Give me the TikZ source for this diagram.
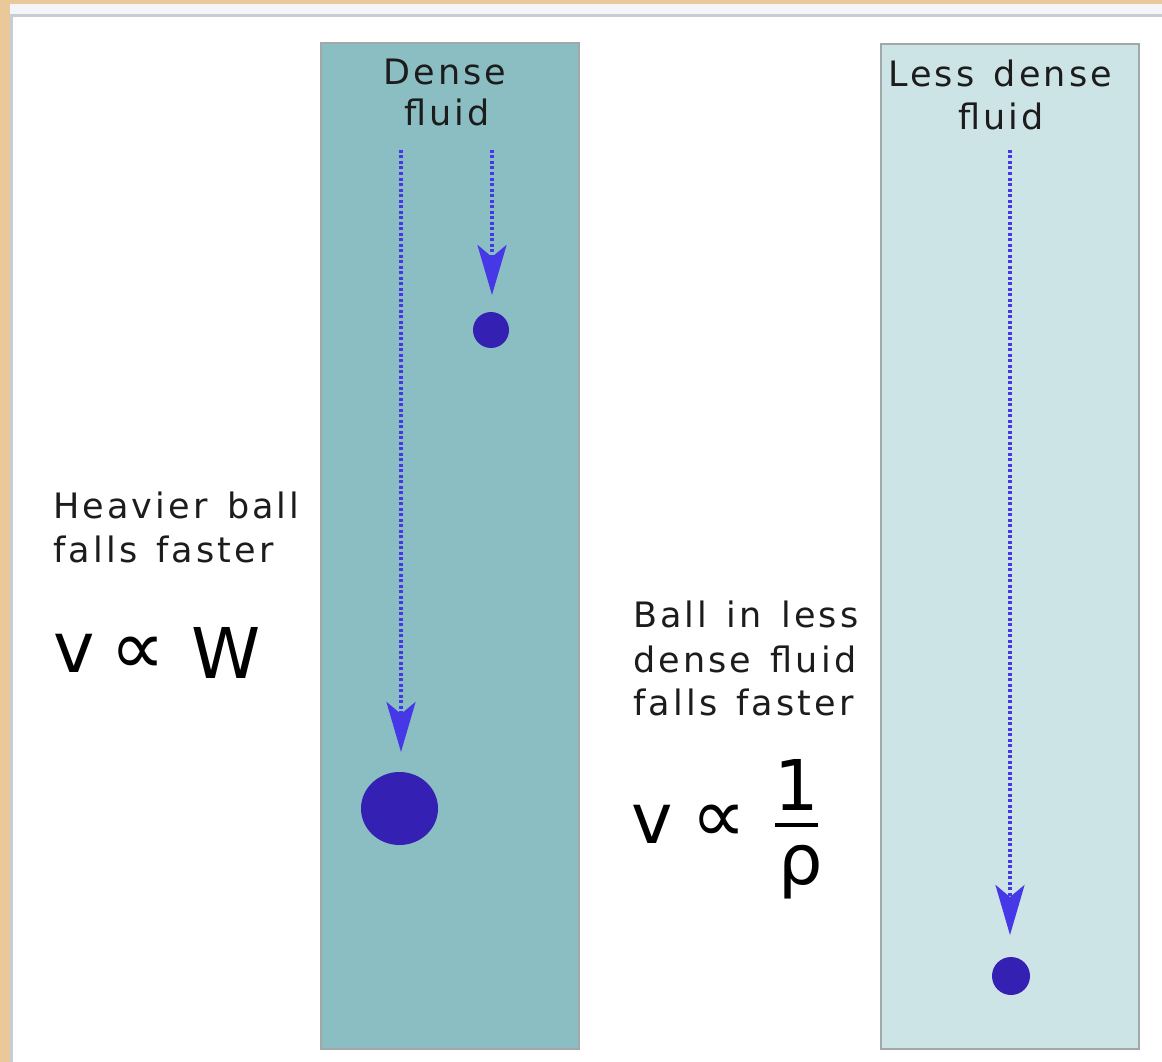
\documentclass[tikz,border=0pt]{standalone}
\usepackage{fontspec}
\setmainfont{DejaVu Sans}
\newfontfamily\labfont[LetterSpace=9,WordSpace=1.35]{DejaVu Sans}
\newfontfamily\mathfont{DejaVu Sans}
\usetikzlibrary{arrows.meta,shapes.geometric}
\definecolor{tanbg}{HTML}{E9C99A}
\definecolor{stripc}{HTML}{F3F5F8}
\definecolor{frameline}{HTML}{C9CDD3}
\definecolor{densefill}{HTML}{8BBEC3}
\definecolor{lessfill}{HTML}{CDE4E7}
\definecolor{colborder}{HTML}{A0A8AA}
\definecolor{arrowc}{HTML}{4638E6}
\definecolor{ballc}{HTML}{3420B2}
\definecolor{txt}{HTML}{1C1C1C}
\tikzset{
  lab/.style={font=\labfont\fontsize{35}{42}\selectfont, text=txt, inner sep=0pt},
  big/.style={font=\mathfont\fontsize{70}{80}\selectfont, text=black, inner sep=0pt},
  prop/.style={font=\mathfont\fontsize{77}{85}\selectfont, text=black, inner sep=0pt},
  column/.style={draw=colborder, line width=2pt},
  fall/.style={draw=arrowc, line width=3.5pt, dash pattern=on 3pt off 2.5pt,
    -{Stealth[length=50pt,width=29pt,inset=12pt]}},
  ball/.style={fill=ballc, draw=none, inner sep=0pt},
}
\begin{document}
\begin{tikzpicture}[x=1pt,y=-1pt]
\useasboundingbox (0,0) rectangle (1162,1062);
% page background and panel
\fill[tanbg] (0,0) rectangle (1162,1062);
\fill[stripc] (10,4) rectangle (1162,14);
\fill[frameline] (10,14) rectangle (1162,17);
\fill[frameline] (10,14) rectangle (13,1062);
\fill[white] (13,17) rectangle (1162,1062);
% columns
\draw[column, fill=densefill] (321,43) rectangle (579,1049);
\draw[column, fill=lessfill] (881,44) rectangle (1139,1049);
% column labels
\node[lab, anchor=base] (dense1) at (445,85) {Dense};
\node[lab, anchor=base] (dense2) at (447,126) {fluid};
\node[lab, anchor=base] (less1) at (1000,87) {Less dense};
\node[lab, anchor=base] (less2) at (1001,130) {fluid};
% balls
\node[ball, ellipse, minimum width=77pt, minimum height=73pt] (bigball) at (399.5,808.5) {};
\node[ball, circle, minimum size=36pt] (smallball) at (491,330) {};
\node[ball, circle, minimum size=38pt] (rightball) at (1011,976) {};
% fall arrows
\coordinate (s1) at (401,150); \coordinate (e1) at (401,752);
\coordinate (s2) at (492,150); \coordinate (e2) at (492,295);
\coordinate (s3) at (1010,150); \coordinate (e3) at (1010,935);
\draw[fall] (s1) -- (e1);
\draw[fall] (s2) -- (e2);
\draw[fall] (s3) -- (e3);
% left text
\node[lab, anchor=base west] (heavy1) at (53,518) {Heavier ball};
\node[lab, anchor=base west] (heavy2) at (53,562) {falls faster};
\node[big, anchor=base west] (v1) at (53,672) {v};
\node[prop, anchor=base west] (p1) at (110,674) {∝};
\node[big, anchor=base west] (w1) at (191,678) {W};
% right text
\node[lab, anchor=base west] (ball1) at (633,627) {Ball in less};
\node[lab, anchor=base west] (ball2) at (633,672) {dense fluid};
\node[lab, anchor=base west] (ball3) at (633,715) {falls faster};
\node[big, anchor=base west] (v2) at (631,843) {v};
\node[prop, anchor=base west] (p2) at (691,842) {∝};
\node[big, anchor=base] (one) at (797,810) {1};
\coordinate (barl) at (775,825); \coordinate (barr) at (818,825);
\draw[black, line width=4pt] (barl) -- (barr);
\node[big, anchor=base] (rho) at (801,884) {ρ};
\end{tikzpicture}
\end{document}
